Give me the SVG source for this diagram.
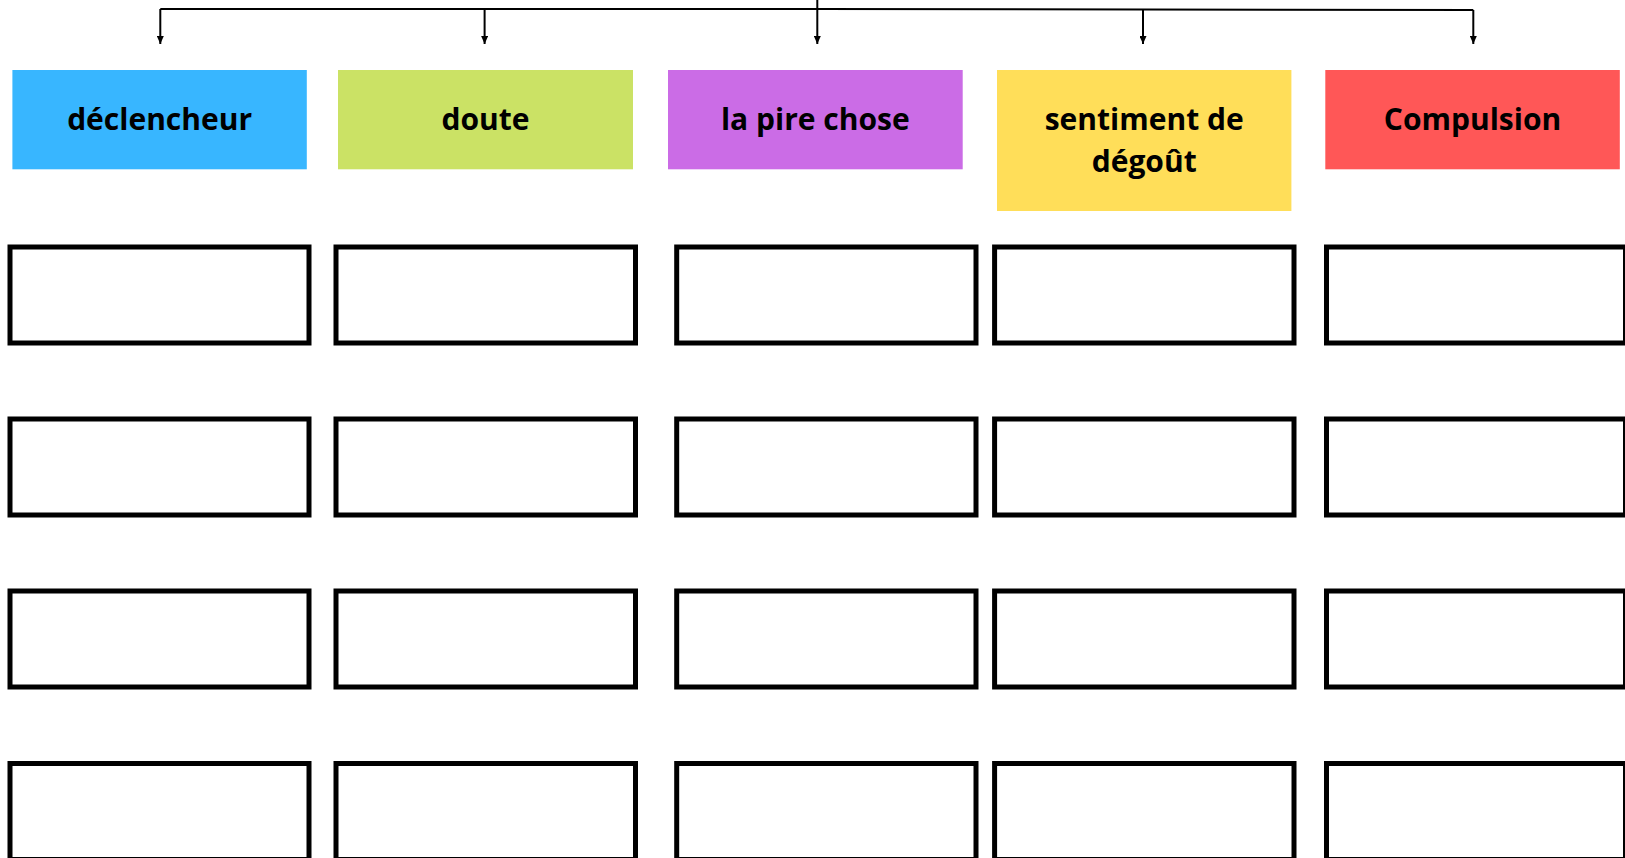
<svg xmlns="http://www.w3.org/2000/svg" width="1625" height="858" viewBox="0 0 1625 858">
  <style>
    .hdr text { font-family: "Open Sans", "Noto Sans", sans-serif; font-weight: 700; font-size: 30px; fill: #000; text-anchor: middle; }
    .cell { fill: #fff; stroke: #000; stroke-width: 5; }
    .conn { fill: none; stroke: #000; stroke-width: 2; }
  </style>
  <defs>
    <marker id="arr" markerUnits="userSpaceOnUse" markerWidth="8" markerHeight="7" refX="8" refY="3.5" orient="auto">
      <path d="M0,0 L8,3.5 L0,7 z" fill="#000"/>
    </marker>
  </defs>
  <rect width="1625" height="858" fill="#fff"/>

  <g id="connectors">
    <path class="conn" d="M817.3,0 V9.5"/>
    <path class="conn" d="M160.3,9 H817.3 L1473.3,10"/>
    <path class="conn" d="M160.3,9 V44" marker-end="url(#arr)"/>
    <path class="conn" d="M484.6,9 V44" marker-end="url(#arr)"/>
    <path class="conn" d="M817.3,9 V44" marker-end="url(#arr)"/>
    <path class="conn" d="M1143,9.5 V44" marker-end="url(#arr)"/>
    <path class="conn" d="M1473.3,10 V44" marker-end="url(#arr)"/>
  </g>

  <g id="h-declencheur" class="hdr">
    <rect x="12.4" y="70" width="294.4" height="99.3" fill="#38b6ff"/>
    <text x="159.6" y="130">déclencheur</text>
  </g>
  <g id="h-doute" class="hdr">
    <rect x="338" y="70" width="295" height="99.3" fill="#cbe265"/>
    <text x="485.5" y="130">doute</text>
  </g>
  <g id="h-pire" class="hdr">
    <rect x="668" y="70" width="294.7" height="99.3" fill="#cb6ce6"/>
    <text x="815.3" y="130">la pire chose</text>
  </g>
  <g id="h-degout" class="hdr">
    <rect x="997" y="70" width="294.4" height="141" fill="#ffde59"/>
    <text x="1144.2" y="130">sentiment de</text>
    <text x="1144.2" y="172">dégoût</text>
  </g>
  <g id="h-compulsion" class="hdr">
    <rect x="1325.3" y="70" width="294.5" height="99.3" fill="#ff5757"/>
    <text x="1472.5" y="130">Compulsion</text>
  </g>

  <g id="grid">
    <g id="row1">
      <rect class="cell" x="10" y="247" width="299" height="96"/>
      <rect class="cell" x="336" y="247" width="299.5" height="96"/>
      <rect class="cell" x="676.7" y="247" width="299.3" height="96"/>
      <rect class="cell" x="994.6" y="247" width="299.4" height="96"/>
      <rect class="cell" x="1326.5" y="247" width="299" height="96"/>
    </g>
    <g id="row2">
      <rect class="cell" x="10" y="419" width="299" height="96"/>
      <rect class="cell" x="336" y="419" width="299.5" height="96"/>
      <rect class="cell" x="676.7" y="419" width="299.3" height="96"/>
      <rect class="cell" x="994.6" y="419" width="299.4" height="96"/>
      <rect class="cell" x="1326.5" y="419" width="299" height="96"/>
    </g>
    <g id="row3">
      <rect class="cell" x="10" y="591" width="299" height="96"/>
      <rect class="cell" x="336" y="591" width="299.5" height="96"/>
      <rect class="cell" x="676.7" y="591" width="299.3" height="96"/>
      <rect class="cell" x="994.6" y="591" width="299.4" height="96"/>
      <rect class="cell" x="1326.5" y="591" width="299" height="96"/>
    </g>
    <g id="row4">
      <rect class="cell" x="10" y="763.5" width="299" height="96"/>
      <rect class="cell" x="336" y="763.5" width="299.5" height="96"/>
      <rect class="cell" x="676.7" y="763.5" width="299.3" height="96"/>
      <rect class="cell" x="994.6" y="763.5" width="299.4" height="96"/>
      <rect class="cell" x="1326.5" y="763.5" width="299" height="96"/>
    </g>
  </g>
</svg>
